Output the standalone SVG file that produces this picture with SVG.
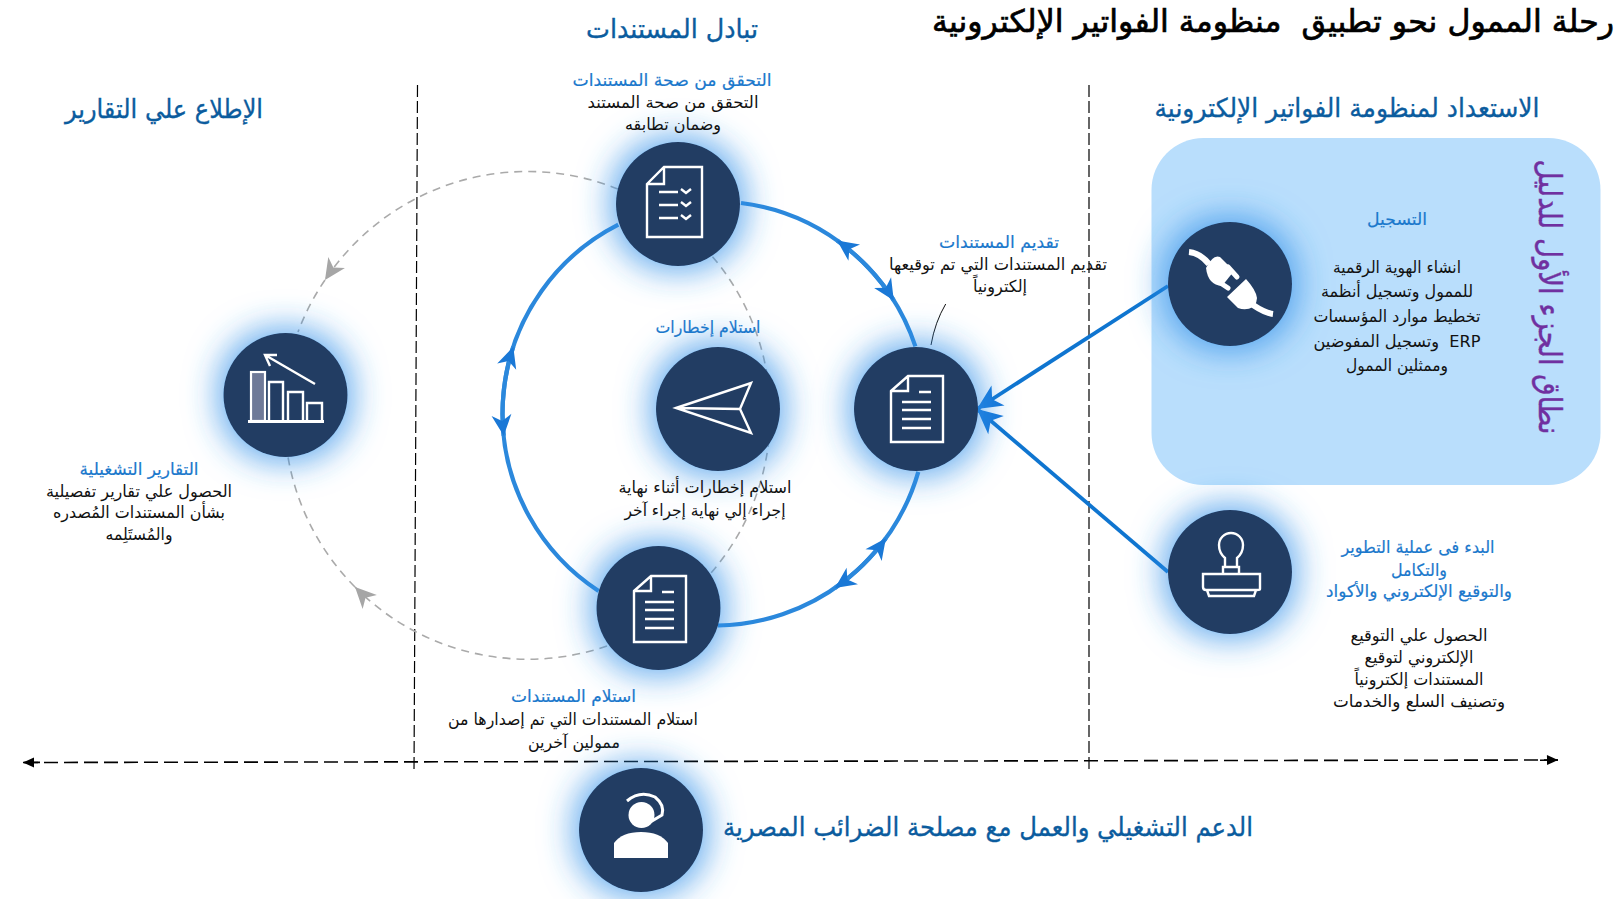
<svg xmlns="http://www.w3.org/2000/svg" width="1616" height="899" viewBox="0 0 1616 899">
<style>
text{font-family:"DejaVu Sans",sans-serif;direction:rtl;text-anchor:middle;white-space:pre}
.title{font-size:31px;fill:#000;stroke:#000;stroke-width:.7}
.head{font-size:26px;fill:#0b5c9e;stroke:#0b5c9e;stroke-width:.35}
.purple{font-size:31px;fill:#7030a0;stroke:#7030a0;stroke-width:.4}
.sub{font-size:17px;fill:#1a78cc;stroke:#1a78cc;stroke-width:.2}
.body{font-size:16.5px;fill:#111}
.disc{fill:#243c63;filter:url(#glow)}
.ln{fill:none;stroke:#fff;stroke-width:2.4}
.fw{fill:#fff;stroke:none}
.ring{fill:none;stroke:#2b88dc;stroke-width:4.2}
.gray{fill:none;stroke:#aaa;stroke-width:1.6;stroke-dasharray:8 6}
.vd{fill:none;stroke:#000;stroke-width:1.2;stroke-dasharray:12 4}
.feed{fill:none;stroke:#0f75d0;stroke-width:3.8}
</style>
<defs>
<filter id="glow" x="-70%" y="-70%" width="240%" height="240%">
<feMorphology in="SourceAlpha" operator="dilate" radius="6" result="d"/>
<feGaussianBlur in="d" stdDeviation="16" result="b"/>
<feFlood flood-color="#2f8fe8" flood-opacity="0.72"/>
<feComposite in2="b" operator="in" result="g"/>
<feMerge><feMergeNode in="g"/><feMergeNode in="SourceGraphic"/></feMerge>
</filter>
<marker id="ab" markerUnits="userSpaceOnUse" markerWidth="26" markerHeight="26" refX="23" refY="13" orient="auto" viewBox="0 0 26 26"><path d="M23,13 L2,3 L8,13 L2,23 Z" fill="#1a78d6"/></marker>
<marker id="abig" markerUnits="userSpaceOnUse" markerWidth="30" markerHeight="30" refX="27" refY="15" orient="auto" viewBox="0 0 30 30"><path d="M27,15 L2,3 L9,15 L2,27 Z" fill="#1476d8"/></marker>
<marker id="ag" markerUnits="userSpaceOnUse" markerWidth="26" markerHeight="26" refX="23" refY="13" orient="auto" viewBox="0 0 26 26"><path d="M23,13 L2,3 L8,13 L2,23 Z" fill="#a6a6a6"/></marker>
<marker id="ak" markerUnits="userSpaceOnUse" markerWidth="14" markerHeight="14" refX="12" refY="7" orient="auto" viewBox="0 0 14 14"><path d="M12,7 L1,2 L1,12 Z" fill="#000"/></marker>
<g id="doc">
<path class="ln" d="M-25,-18 L-8,-33 L27,-33 L27,33 L-25,33 Z M-25,-18 L-8,-18 L-8,-33"/>
<path class="ln" d="M3,-17 H15 M-14,-7 H15 M-14,1 H15 M-14,10 H15 M-14,19 H15"/>
</g>
</defs>
<rect id="panel" x="1151.5" y="138" width="449" height="347" rx="52" fill="#b9defc"/>
<g id="connectors">
<path class="vd" d="M417.5,85 L414,773"/>
<path class="vd" d="M1089,85 L1089,773"/>
<path d="M1558,760 L23,762.5" fill="none" stroke="#000" stroke-width="1.6" stroke-dasharray="14 6"/>
<path d="M1540,760.2 L1558,760" fill="none" stroke="#000" stroke-width="1.6" marker-end="url(#ak)"/>
<path d="M40,762.4 L23,762.5" fill="none" stroke="#000" stroke-width="1.6" marker-end="url(#ak)"/>
<path class="gray" d="M618,189 A243,243 0 0 0 325,280" marker-end="url(#ag)"/>
<path class="gray" d="M325,280 A243,243 0 0 0 298,332"/>
<path class="gray" d="M607,646 A243,243 0 0 1 355,587" marker-end="url(#ag)"/>
<path class="gray" d="M355,587 A243,243 0 0 1 288,457"/>
<path class="gray" d="M712.5,256.7 A243,243 0 0 1 711,573"/>
<path class="ring" d="M741,203 A212,212 0 0 1 915.4,346.4"/>
<path class="ring" d="M918.3,471.8 A212,212 0 0 1 718,625.5"/>
<path class="ring" d="M598.6,591 A212,212 0 0 1 618.3,224.6"/>
<path class="ring" d="M868.9,268.2 A212,212 0 0 0 837.1,240.5" marker-end="url(#ab)"/>
<path class="ring" d="M868.9,268.2 A212,212 0 0 1 893.8,300.4" marker-end="url(#ab)"/>
<path class="ring" d="M862.9,564.9 A212,212 0 0 0 885.9,538.2" marker-end="url(#ab)"/>
<path class="ring" d="M862.9,564.9 A212,212 0 0 1 835,587.9" marker-end="url(#ab)"/>
<path class="ring" d="M503.6,392.1 A212,212 0 0 1 513.3,346.7" marker-end="url(#ab)"/>
<path class="ring" d="M503.6,392.1 A212,212 0 0 0 503.7,435.8" marker-end="url(#ab)"/>
<path class="feed" d="M1168,286 L977,409" marker-end="url(#abig)"/>
<path class="feed" d="M1168,572 L977,409" marker-end="url(#abig)"/>
<path d="M931,345 Q935,322 945.7,304" fill="none" stroke="#111" stroke-width="1"/>
</g>
<g id="node-register">
<circle class="disc" cx="1230" cy="284" r="62"/>
<path d="M1189,252 Q1200,253 1209,264" fill="none" stroke="#fff" stroke-width="6"/>
<path class="fw" d="M1206,268 Q1213,254 1220,257 L1234,271 L1222,286 Q1208,285 1206,268 Z"/>
<path d="M1228,267 L1237,277 M1216,280 L1228,288" fill="none" stroke="#fff" stroke-width="5" stroke-linecap="round"/>
<path class="fw" d="M1227,297 L1246,279 Q1256,290 1257,298 Q1256,306 1253,307 Q1246,311 1238,308 Z"/>
<path d="M1253,305 Q1265,313 1273,314" fill="none" stroke="#fff" stroke-width="6"/>
<text class="sub" x="1397" y="225" textLength="60" lengthAdjust="spacingAndGlyphs">التسجيل</text>
<text class="body" x="1397" y="273" textLength="128" lengthAdjust="spacingAndGlyphs">انشاء الهوية الرقمية</text>
<text class="body" x="1397" y="297" textLength="152" lengthAdjust="spacingAndGlyphs">للممول وتسجيل أنظمة</text>
<text class="body" x="1397" y="322" textLength="167" lengthAdjust="spacingAndGlyphs">تخطيط موارد المؤسسات</text>
<text class="body" x="1397" y="347" textLength="167" lengthAdjust="spacingAndGlyphs">ERP  وتسجيل المفوضين</text>
<text class="body" x="1397" y="371" textLength="102" lengthAdjust="spacingAndGlyphs">وممثلين الممول</text>
</g>
<g id="node-signature">
<circle class="disc" cx="1230" cy="572" r="62"/>
<path class="ln" d="M1225,567 L1225,558 Q1219,553 1219,545 A12,12 0 1 1 1243,545 Q1243,553 1237,558 L1237,567 M1223,567 H1239 V574 H1223 Z M1203,574 H1260 V589 Q1260,590 1257,590 H1206 Q1203,590 1203,587 Z M1207,590 L1209,596 H1254 L1256,590"/>
<text class="sub" x="1418" y="553" textLength="153" lengthAdjust="spacingAndGlyphs">البدء فى عملية التطوير</text>
<text class="sub" x="1419" y="576" textLength="56" lengthAdjust="spacingAndGlyphs">والتكامل</text>
<text class="sub" x="1419" y="597" textLength="186" lengthAdjust="spacingAndGlyphs">والتوقيع الإلكتروني والأكواد</text>
<text class="body" x="1419" y="641" textLength="137" lengthAdjust="spacingAndGlyphs">الحصول علي التوقيع</text>
<text class="body" x="1419" y="663" textLength="109" lengthAdjust="spacingAndGlyphs">الإلكتروني لتوقيع</text>
<text class="body" x="1419" y="685" textLength="129" lengthAdjust="spacingAndGlyphs">المستندات إلكترونياً</text>
<text class="body" x="1419" y="707" textLength="172" lengthAdjust="spacingAndGlyphs">وتصنيف السلع والخدمات</text>
</g>
<g id="node-submit">
<circle class="disc" cx="916" cy="409" r="62"/>
<use href="#doc" x="916" y="409"/>
<text class="sub" x="999" y="248" textLength="120" lengthAdjust="spacingAndGlyphs">تقديم المستندات</text>
<text class="body" x="998" y="270" textLength="218" lengthAdjust="spacingAndGlyphs">تقديم المستندات التي تم توقيعها</text>
<text class="body" x="1000" y="292" textLength="54" lengthAdjust="spacingAndGlyphs">إلكترونياً</text>
</g>
<g id="node-verify">
<circle class="disc" cx="678" cy="204" r="62"/>
<path class="ln" d="M647,184 L664,167 L702,167 L702,237 L647,237 Z M647,184 L664,184 L664,167"/>
<path class="ln" d="M659,192 H678 M659,205 H678 M659,218 H678"/>
<path class="ln" d="M681,189 L686,193 L691,189 M681,202 L686,206 L691,202 M681,215 L686,219 L691,215"/>
<text class="sub" x="672" y="86" textLength="199" lengthAdjust="spacingAndGlyphs">التحقق من صحة المستندات</text>
<text class="body" x="673" y="108" textLength="171" lengthAdjust="spacingAndGlyphs">التحقق من صحة المستند</text>
<text class="body" x="673" y="130" textLength="96" lengthAdjust="spacingAndGlyphs">وضمان تطابقه</text>
</g>
<g id="node-notify">
<circle class="disc" cx="718" cy="409" r="62"/>
<path class="ln" d="M676,408 L751,383 L740,409 L751,433 Z M676,408 L740,409"/>
<text class="sub" x="708" y="333" textLength="105" lengthAdjust="spacingAndGlyphs">استلام إخطارات</text>
<text class="body" x="705" y="493" textLength="173" lengthAdjust="spacingAndGlyphs">استلام إخطارات أثناء نهاية</text>
<text class="body" x="705" y="516" textLength="161" lengthAdjust="spacingAndGlyphs">إجراء إلي نهاية إجراء آخر</text>
</g>
<g id="node-receive">
<circle class="disc" cx="658.5" cy="608" r="62"/>
<use href="#doc" x="659" y="609"/>
<text class="sub" x="573.5" y="702" textLength="125" lengthAdjust="spacingAndGlyphs">استلام المستندات</text>
<text class="body" x="573" y="725" textLength="250" lengthAdjust="spacingAndGlyphs">استلام المستندات التي تم إصدارها من</text>
<text class="body" x="574" y="748" textLength="92" lengthAdjust="spacingAndGlyphs">ممولين آخرين</text>
</g>
<g id="node-reports">
<circle class="disc" cx="285.5" cy="395" r="62"/>
<rect x="251" y="372" width="14" height="49" fill="#6f7a98" stroke="#fff" stroke-width="2.2"/>
<path class="ln" d="M269,421 V382 H283 V421 M288,421 V392 H303 V421 M307,421 V403 H322 V421"/>
<path d="M248,421.5 H324" fill="none" stroke="#fff" stroke-width="2.8"/>
<path class="ln" d="M315,384 L265,355 M277,355 L265,355 L270,366"/>
<text class="sub" x="139" y="475" textLength="119" lengthAdjust="spacingAndGlyphs">التقارير التشغيلية</text>
<text class="body" x="139" y="497" textLength="186" lengthAdjust="spacingAndGlyphs">الحصول علي تقارير تفصيلية</text>
<text class="body" x="139" y="518" textLength="172" lengthAdjust="spacingAndGlyphs">بشأن المستندات المُصدره</text>
<text class="body" x="139" y="540" textLength="67" lengthAdjust="spacingAndGlyphs">والمُستَلِمه</text>
</g>
<g id="node-support">
<circle class="disc" cx="641" cy="830" r="62"/>
<circle class="fw" cx="641.5" cy="815" r="13"/>
<path d="M627,801 Q640,790 655,797 Q665,805 662,815 L647,824" fill="none" stroke="#fff" stroke-width="3"/>
<path class="fw" d="M614,858 V843 Q622,832 641,832 Q660,832 668,843 V858 Z"/>
<text class="head" x="988" y="836" textLength="530" lengthAdjust="spacingAndGlyphs">الدعم التشغيلي والعمل مع مصلحة الضرائب المصرية</text>
</g>
<g id="labels">
<text class="title" x="1273" y="32" textLength="682" lengthAdjust="spacingAndGlyphs">رحلة الممول نحو تطبيق  منظومة الفواتير الإلكترونية</text>
<text class="head" x="672" y="38" textLength="172" lengthAdjust="spacingAndGlyphs">تبادل المستندات</text>
<text class="head" x="164" y="118" textLength="198" lengthAdjust="spacingAndGlyphs">الإطلاع علي التقارير</text>
<text class="head" x="1347" y="117" textLength="385" lengthAdjust="spacingAndGlyphs">الاستعداد لمنظومة الفواتير الإلكترونية</text>
<text class="purple" transform="translate(1538.5,297) rotate(90)" textLength="275" lengthAdjust="spacingAndGlyphs">نطاق الجزء الأول للدليل</text>
</g>
</svg>
